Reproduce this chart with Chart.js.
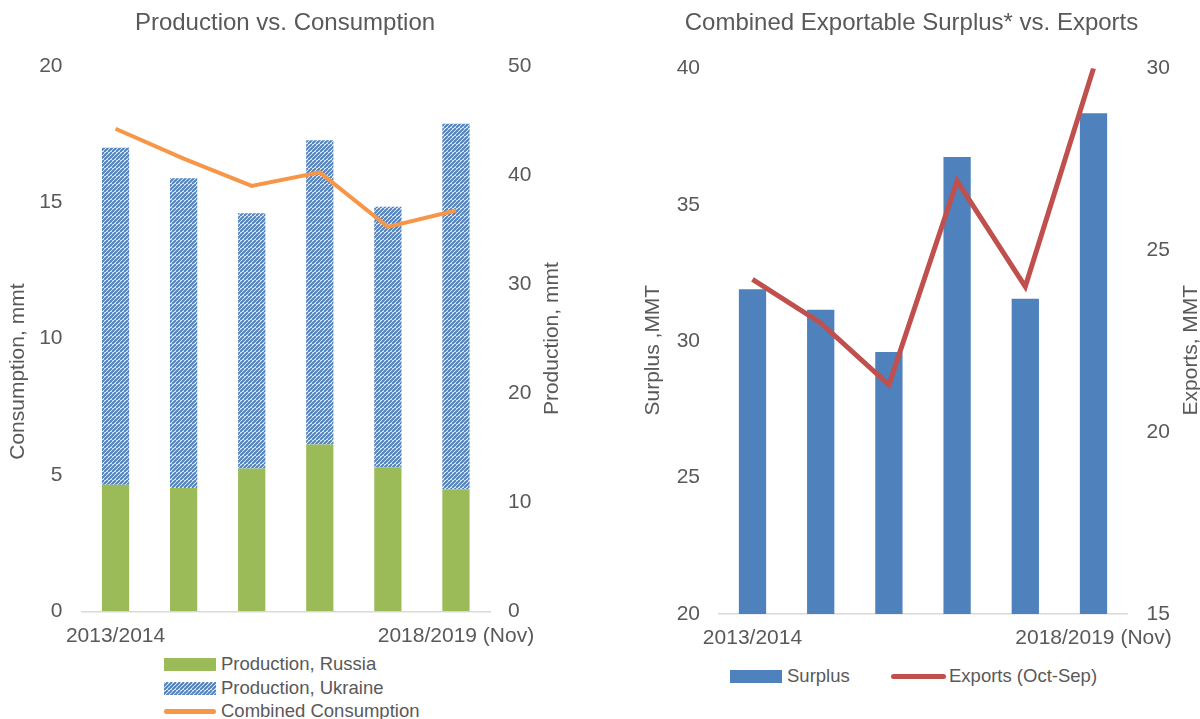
<!DOCTYPE html>
<html>
<head>
<meta charset="utf-8">
<script src="https://cdn.jsdelivr.net/npm/chart.js@4.4.0/dist/chart.umd.min.js"></script>
<style>
  body { margin: 0; background: #fff; width: 1200px; height: 719px; overflow: hidden; position: relative;
         font-family: "Liberation Sans", Arial, sans-serif; color: #595959; }
  #c1 { position: absolute; left: 0; top: 0; }
  #c2 { position: absolute; left: 620px; top: 0; }
  .sw { position: absolute; }
  .lt { position: absolute; font-size: 18.5px; line-height: 20px; white-space: nowrap; }
</style>
</head>
<body>
<canvas id="c1" width="571" height="650"></canvas>
<canvas id="c2" width="583" height="652"></canvas>
<div id="legends"></div>
<script>
// marketing years (only first and last are labelled on the axis)
const seasons = ['2013/2014', '2014/2015', '2015/2016', '2016/2017', '2017/2018', '2018/2019 (Nov)'];

// left chart, mmt
const prodRussia = [11.6, 11.3, 13.1, 15.3, 13.2, 11.2];
const prodUkraine = [30.9, 28.4, 23.4, 27.9, 23.9, 33.5];
const consumption = [17.7, 16.6, 15.6, 16.1, 14.1, 14.7];

// right chart, MMT
const surplus = [31.9, 31.15, 29.6, 36.75, 31.55, 38.35];
const exportsOctSep = [24.2, 23.0, 21.3, 26.9, 24.0, 30.0];

const textColor = '#595959';
const green = '#9BBB59';
const blue = '#4F81BD';
const orange = '#F79646';
const red = '#C0504D';
const FONT = '"Liberation Sans", Arial, sans-serif';

Chart.defaults.font.family = FONT;
Chart.defaults.color = textColor;

// wide upward diagonal hatch
const tile = document.createElement('canvas');
tile.width = 8; tile.height = 8;
const tctx = tile.getContext('2d');
tctx.fillStyle = '#fff';
tctx.fillRect(0, 0, 8, 8);
tctx.strokeStyle = blue;
tctx.lineWidth = 2;
for (let k = -8; k <= 12; k += 4) {
  tctx.beginPath();
  tctx.moveTo(k, 8);
  tctx.lineTo(k + 8, 0);
  tctx.stroke();
}
const hatch = tctx.createPattern(tile, 'repeat');

// axis titles, both read bottom-to-top as in the original
const axisTitles = {
  id: 'axisTitles',
  afterDraw(chart, args, opts) {
    const ctx = chart.ctx;
    for (const id of ['y', 'y1']) {
      const o = opts[id];
      const s = chart.scales[id];
      if (!o || !s) continue;
      const x = s.position === 'left' ? s.left + o.inset : s.right - o.inset;
      ctx.save();
      ctx.font = '21px ' + FONT;
      ctx.fillStyle = textColor;
      ctx.textAlign = 'center';
      ctx.textBaseline = 'middle';
      ctx.translate(x, (s.top + s.bottom) / 2 + o.dy);
      ctx.rotate(-Math.PI / 2);
      ctx.fillText(o.text, 0, 0);
      ctx.restore();
    }
  }
};

const firstLast = (v, i) => (i === 0 || i === seasons.length - 1) ? seasons[i] : '';

function xAxis(pad, h) {
  return {
    stacked: true,
    grid: { display: false, drawTicks: false },
    border: { display: true, color: '#D9D9D9', width: 1.5 },
    ticks: { padding: pad, maxRotation: 0, autoSkip: false, font: { size: 21 }, callback: firstLast },
    afterFit: (s) => { s.height = h; }
  };
}

function yAxis(pos, min, max, step, tickPad, w) {
  return {
    position: pos,
    min: min,
    max: max,
    grid: { display: false, drawTicks: false },
    border: { display: false },
    ticks: { stepSize: step, padding: tickPad, font: { size: 21 } },
    afterFit: (s) => { s.width = w; }
  };
}

new Chart(document.getElementById('c1'), {
  type: 'bar',
  data: {
    labels: seasons,
    datasets: [{
        type: 'line',
        label: 'Combined Consumption',
        data: consumption,
        yAxisID: 'y',
        borderColor: orange,
        borderWidth: 4,
        pointRadius: 0,
        order: 1,
      }, {
        label: 'Production, Russia',
        data: prodRussia,
        backgroundColor: green,
        yAxisID: 'y1',
        stack: 'p',
        order: 2,
      }, {
        label: 'Production, Ukraine',
        data: prodUkraine,
        backgroundColor: hatch,
        yAxisID: 'y1',
        stack: 'p',
        order: 2,
      }
    ]
  },
  options: {
    responsive: false,
    animation: false,
    barPercentage: 0.4,
    categoryPercentage: 1.0,
    layout: { padding: { left: 0, right: 1, top: 0, bottom: 2 } },
    plugins: {
      legend: { display: false },
      tooltip: { enabled: false },
      title: { display: true, text: 'Production vs. Consumption', color: textColor,
               font: { size: 24, weight: 'normal' }, padding: { top: 8.6, bottom: 28.6 } },
      axisTitles: {
        y: { text: 'Consumption, mmt', inset: 18, dy: 33 },
        y1: { text: 'Production, mmt', inset: 18, dy: 0 }
      }
    },
    scales: {
      x: xAxis(12.5, 36.7),
      y: yAxis('left', 0, 20, 5, 19, 81.5),
      y1: Object.assign(yAxis('right', 0, 50, 10, 18, 80), { stacked: true })
    }
  },
  plugins: [axisTitles]
});

new Chart(document.getElementById('c2'), {
  type: 'bar',
  data: {
    labels: seasons,
    datasets: [{
        type: 'line',
        label: 'Exports (Oct-Sep)',
        data: exportsOctSep,
        yAxisID: 'y1',
        borderColor: red,
        borderWidth: 5,
        pointRadius: 0,
        order: 1,
      }, {
        label: 'Surplus',
        data: surplus,
        backgroundColor: blue,
        yAxisID: 'y',
        order: 2,
      }
    ]
  },
  options: {
    responsive: false,
    animation: false,
    barPercentage: 0.4,
    categoryPercentage: 1.0,
    layout: { padding: { left: 0, right: 0, top: 0, bottom: 2 } },
    plugins: {
      legend: { display: false },
      tooltip: { enabled: false },
      title: { display: true, text: 'Combined Exportable Surplus* vs. Exports', color: textColor,
               font: { size: 24, weight: 'normal' }, padding: { top: 8.6, bottom: 30.9 } },
      axisTitles: {
        y: { text: 'Surplus ,MMT', inset: 33.6, dy: 9 },
        y1: { text: 'Exports, MMT', inset: 12, dy: 9 }
      }
    },
    scales: {
      x: xAxis(12, 36),
      y: yAxis('left', 20, 40, 5, 18.4, 98.4),
      y1: yAxis('right', 15, 30, 5, 18.9, 75.4)
    }
  },
  plugins: [axisTitles]
});

// legends as html
const legendHost = document.getElementById('legends');
function addItem(kind, fill, label, sx, sw, cy, tx) {
  const s = document.createElement('div');
  s.className = 'sw';
  const h = kind === 'line' ? 5 : 13;
  s.style.left = sx + 'px';
  s.style.width = sw + 'px';
  s.style.height = h + 'px';
  s.style.top = (cy - h / 2) + 'px';
  if (kind === 'line') { s.style.background = fill; s.style.borderRadius = '3px'; }
  else if (kind === 'hatch') { s.style.backgroundImage = 'url(' + tile.toDataURL() + ')'; }
  else { s.style.background = fill; }
  legendHost.appendChild(s);
  const t = document.createElement('div');
  t.className = 'lt';
  t.style.left = tx + 'px';
  t.style.top = (cy - 10) + 'px';
  t.textContent = label;
  legendHost.appendChild(t);
}
addItem('box', green, 'Production, Russia', 164, 52, 664, 221);
addItem('hatch', null, 'Production, Ukraine', 164, 52, 688, 221);
addItem('line', orange, 'Combined Consumption', 164, 52, 711, 221);
addItem('box', blue, 'Surplus', 730, 52, 676, 787);
addItem('line', red, 'Exports (Oct-Sep)', 891, 55, 676, 949);
</script>
</body>
</html>
